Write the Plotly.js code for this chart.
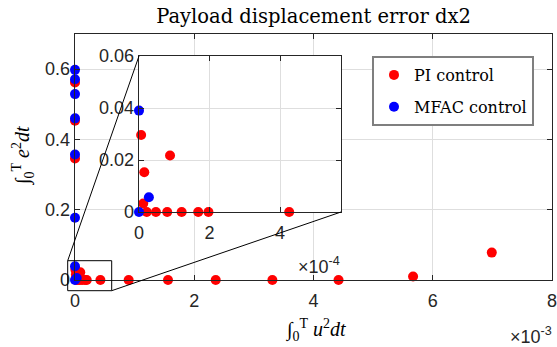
<!DOCTYPE html>
<html>
<head>
<meta charset="utf-8">
<script src="https://cdn.plot.ly/plotly-3.0.1.min.js"></script>
<style>html,body{margin:0;padding:0;background:#fff;}#chart{width:557px;height:347px;}</style>
</head>
<body>
<div id="chart"></div>
<script>
// ---- data ----
const piX = [0, 0, 0, 0.0000060, 0.0000150, 0.0000880, 0.0000120, 0.0000220, 0.0000480, 0.0000800, 0.0001210, 0.0001680, 0.0001970, 0.0004260, 0.000900, 0.001560, 0.002360, 0.003310, 0.004420, 0.005670, 0.006990];
const piY = [0.562, 0.453, 0.346, 0.0296, 0.0153, 0.0217, 0.0033, 0, 0, 0, 0, 0, 0, 0, 0, 0, 0, 0, 0, 0.010, 0.078];
const mfacX = [0, 0, 0, 0, 0, 0, 0, 0.0000280, 0];
const mfacY = [0.598, 0.571, 0.529, 0.460, 0.357, 0.177, 0.039, 0.0057, 0];

const seriesNames = ['PI control', 'MFAC control'];
const mainXTicks = [0, 0.002, 0.004, 0.006, 0.008];
const mainXTickText = ['0', '2', '4', '6', '8'];
const mainYTicks = [0, 0.2, 0.4, 0.6];
const mainYTickText = ['0', '0.2', '0.4', '0.6'];
const insetXTicks = [0, 0.0002, 0.0004];
const insetXTickText = ['0', '2', '4'];
const insetYTicks = [0, 0.02, 0.04, 0.06];
const insetYTickText = ['0', '0.02', '0.04', '0.06'];

const titleText = 'Payload displacement error dx2';
const xLabel = '\u222B<sub>0</sub><sup>T</sup> <i>u</i><sup>2</sup><i>dt</i>';
const yLabel = '\u222B<sub>0</sub><sup>T</sup> <i>e</i><sup>2</sup><i>dt</i>';

// ---- style ----
const RED = '#ff0000', BLUE = '#0000ff', AX = '#262626', GRID = '#dedede';
const SANS = 'Liberation Sans, Arial, sans-serif';
const SERIF = 'DejaVu Serif, serif';
const SERIF2 = 'Liberation Serif, Times New Roman, serif';
const MS = 10;

function mk(x, y, color, name, xa, ya, show, grp) {
  return {x: x, y: y, type: 'scatter', mode: 'markers', name: name,
    xaxis: xa, yaxis: ya, showlegend: show, legendgroup: grp, cliponaxis: false,
    marker: {color: color, size: MS}};
}
const traces = [
  mk(piX, piY, RED, seriesNames[0], 'x', 'y', true, 'a'),
  mk(mfacX, mfacY, BLUE, seriesNames[1], 'x', 'y', true, 'b'),
  mk(piX, piY, RED, seriesNames[0], 'x2', 'y2', false, 'a'),
  mk(mfacX, mfacY, BLUE, seriesNames[1], 'x2', 'y2', false, 'b')
];

function axis(extra) {
  return Object.assign({
    showgrid: true, gridcolor: GRID, gridwidth: 1, zeroline: false,
    showline: true, linecolor: AX, linewidth: 1.3, mirror: 'ticks',
    ticks: 'inside', ticklen: 5, tickcolor: AX, tickwidth: 1,
    tickfont: {family: SANS, size: 18, color: AX}, tickmode: 'array',
    ticklabeloverflow: 'allow'
  }, extra);
}

const L = 75, R = 552, T = 34, B = 280, W = 557, H = 347;
const px = v => (v - L) / (R - L);
const py = v => (B - v) / (B - T);

const layout = {
  width: W, height: H,
  margin: {l: L, r: W - R, t: T, b: H - B, pad: 0},
  paper_bgcolor: '#fff', plot_bgcolor: '#fff',
  title: {text: titleText, font: {family: SERIF, size: 19.5, color: '#000'},
          x: 0.5, xref: 'paper', xanchor: 'center', y: 1 - 16 / H, yref: 'container', yanchor: 'middle'},
  xaxis: axis({range: [0, 0.008], tickvals: mainXTicks, ticktext: mainXTickText, anchor: 'y', ticklabelstandoff: 4}),
  yaxis: axis({range: [0, 0.7], tickvals: mainYTicks, ticktext: mainYTickText, anchor: 'x'}),
  xaxis2: axis({range: [0, 0.000573], tickvals: insetXTicks, ticktext: insetXTickText, anchor: 'y2',
                domain: [px(139), px(341)], ticklabelstandoff: 4}),
  yaxis2: axis({range: [0, 0.06], tickvals: insetYTicks, ticktext: insetYTickText, anchor: 'x2',
                domain: [py(212), py(56)]}),
  showlegend: true,
  legend: {x: px(372), y: py(56), xanchor: 'left', yanchor: 'top', xref: 'paper', yref: 'paper',
           bgcolor: '#fff', bordercolor: '#7f7f7f', borderwidth: 2,
           font: {family: SERIF, size: 16, color: '#000'}, tracegroupgap: 8, itemwidth: 30},
  shapes: [
    {type: 'rect', xref: 'paper', yref: 'paper', x0: px(67.7), x1: px(111.7), y0: py(290.7), y1: py(260.7),
     line: {color: '#000', width: 1}},
    {type: 'line', xref: 'paper', yref: 'paper', x0: px(67.7), y0: py(260.7), x1: px(139), y1: py(56),
     line: {color: '#000', width: 1}},
    {type: 'line', xref: 'paper', yref: 'paper', x0: px(111.7), y0: py(290.7), x1: px(341), y1: py(212),
     line: {color: '#000', width: 1}}
  ],
  annotations: [
    {text: '\u00D710<sup>-3</sup>', xref: 'paper', yref: 'paper', x: 1.005, y: py(335), xanchor: 'right', yanchor: 'middle',
     showarrow: false, font: {family: SANS, size: 18, color: AX}},
    {text: '\u00D710<sup>-4</sup>', xref: 'paper', yref: 'paper', x: px(342), y: py(265), xanchor: 'right', yanchor: 'middle',
     showarrow: false, font: {family: SANS, size: 18, color: AX}},
    {text: xLabel, xref: 'paper', yref: 'paper', x: px(315), y: py(330), xanchor: 'center', yanchor: 'middle',
     showarrow: false, font: {family: SERIF2, size: 20, color: '#000'}},
    {text: yLabel, xref: 'paper', yref: 'paper', x: px(23), y: py(156), xanchor: 'center', yanchor: 'middle',
     textangle: -90, showarrow: false, font: {family: SERIF2, size: 20, color: '#000'}}
  ]
};

Plotly.newPlot('chart', traces, layout, {displayModeBar: false, staticPlot: true});
</script>
</body>
</html>
